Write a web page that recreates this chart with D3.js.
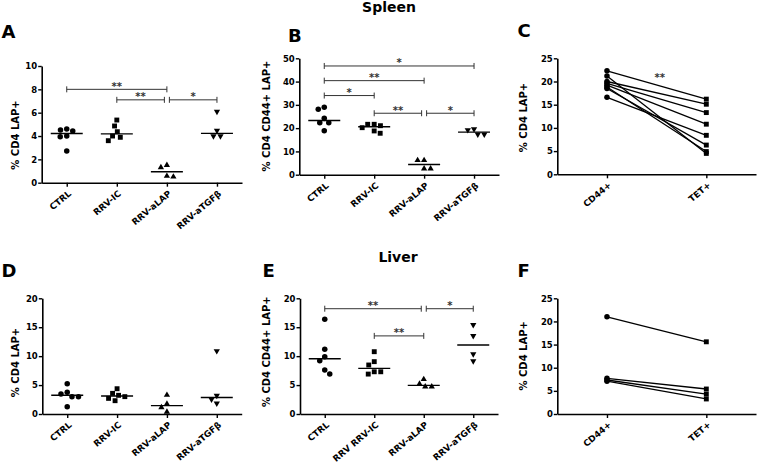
<!DOCTYPE html>
<html><head><meta charset="utf-8">
<script src="https://cdn.jsdelivr.net/npm/d3@7"></script>
<style>
body{margin:0;background:#fff}
text{font-family:'DejaVu Sans',sans-serif;font-weight:bold;fill:#000}
</style>
</head><body>
<svg id="c" width="760" height="463"></svg>
<script>
// ---------- DATA ----------
const groupsSpleen = ["CTRL","RRV-IC","RRV-aLAP","RRV-aTGFβ"];
const groupsLiver  = ["CTRL","RRV RRV-IC","RRV-aLAP","RRV-aTGFβ"];
const pairLabels   = ["CD44+","TET+"];

// Panel A: % CD4 LAP+ (spleen)
const aValues = [[4.6,4.51,4.43,4.0,3.94,2.71],[5.37,4.86,4.37,4.0,3.89,3.6],[1.51,1.31,0.57,0.51],[6.09,4.46,4.0,4.0]];
const aTicks = [0,2,4,6,8,10];
const aSig = [[0,2,8.0,"**"],[1,2,7.1,"**"],[2,3,7.1,"*"]];

// Panel B: % CD4 CD44+ LAP+ (spleen)
const bValues = [[28.1,28.95,24.2,22.3,22.3,18.9],[21.65,20.2,21.05,21.65,17.8,18.8],[6.2,6.2,2.6,2.6],[19.2,17.35,17.35,19.6]];
const bTicks = [0,10,20,30,40,50];
const bSig = [[0,3,46.7,"*"],[0,2,40.4,"**"],[0,1,34.0,"*"],[1,2,26.4,"**"],[2,3,26.4,"*"]];

// Panel C: paired CD44+ vs TET+ (spleen)
const cPre  = [22.3,21.2,20.0,19.6,19.2,18.8,18.5,16.6];
const cPost = [16.2,4.5,15.1,13.3,10.8,4.9,6.3,8.4];
const cTicks = [0,5,10,15,20,25];
const cSig = [["**",20.9]];

// Panel D: % CD4 LAP+ (liver)
const dValues = [[3.75,5.24,3.46,3.0,3.0,1.27],[4.37,3.0,2.3,2.7,3.57,3.23],[3.28,1.73,1.15,0.35],[10.9,3.17,1.85,2.54]];
const dTicks = [0,5,10,15,20];

// Panel E: % CD4 CD44+ LAP+ (liver)
const eValues = [[16.37,11.18,9.9,9.2,6.9,7.6],[10.77,9.05,8.47,7.3,6.9,7.3],[5.19,6.0,4.72,4.72],[15.4,13.5,10.37,9.16]];
const eTicks = [0,5,10,15,20];
const eSig = [[0,2,18.2,"**"],[2,3,18.2,"*"],[1,2,13.5,"**"]];

// Panel F: paired CD44+ vs TET+ (liver)
const fPre  = [21.0,7.7,7.35,7.1];
const fPost = [15.6,5.4,4.3,3.25];
const fTicks = [0,5,10,15,20,25];

// ---------- DRAWING ----------
const svg = d3.select("#c");

function styleAxis(g){
  g.select(".domain").attr("stroke","#000").attr("stroke-width",1.6);
  g.selectAll(".tick line").attr("stroke","#000").attr("stroke-width",1.4);
  g.selectAll("text").attr("font-family","'DejaVu Sans',sans-serif").attr("font-weight","bold");
}

function drawFrame(p, cats){
  const x = d3.scalePoint().domain(cats).range([p.x0,p.x1]).padding(0.5);
  const y = d3.scaleLinear().domain([0,p.ticks[p.ticks.length-1]]).range([p.y0,p.yTop]);
  const ya = svg.append("g").attr("transform",`translate(${p.x0},0)`)
    .call(d3.axisLeft(y).tickValues(p.ticks).tickSize(3.5).tickSizeOuter(0).tickPadding(1));
  styleAxis(ya);
  ya.selectAll("text").attr("font-size",8.5);
  const xa = svg.append("g").attr("transform",`translate(0,${p.y0})`)
    .call(d3.axisBottom(x).tickSize(4).tickSizeOuter(0));
  styleAxis(xa);
  xa.selectAll("text").attr("font-size",8.8).attr("text-anchor","end")
    .attr("dy","0.35em").attr("y",0)
    .attr("transform","translate(2.5,9.5) rotate(-40)");
  svg.append("text").attr("font-size",10).attr("text-anchor","middle")
    .attr("transform",`translate(${p.labX},${p.labY}) rotate(-90)`).attr("dy","0.35em").text(p.label);
  svg.append("text").attr("font-size",18).attr("x",p.letX).attr("y",p.letY).text(p.letter);
  return {x,y};
}

function swarm(vals, y, d){
  const placed=[];
  const order = vals.map((v,i)=>i).sort((a,b)=>vals[b]-vals[a]);
  const off = new Array(vals.length).fill(0);
  let side = -1;
  order.forEach(i=>{
    const py = y(vals[i]);
    let best=null;
    for(let k=0;k<=200 && best===null;k++){
      const cands = k===0?[0]:[side*k*0.25,-side*k*0.25];
      for(const cx of cands){
        if(placed.every(q=>Math.hypot(q[0]-cx,q[1]-py)>=d)){best=cx;break;}
      }
    }
    if(best!==0) side=-Math.sign(best);
    off[i]=best; placed.push([best,py]);
  });
  return off;
}

function symbolPath(kind){
  if(kind===0) return d3.symbol(d3.symbolCircle,24)();
  if(kind===1) return d3.symbol(d3.symbolSquare,24)();
  return d3.symbol(d3.symbolTriangle,17)();
}

function drawScatter(p, cats, values, sig){
  const {x,y} = drawFrame(p, cats);
  values.forEach((vals,gi)=>{
    const cx = x(cats[gi]);
    const off = swarm(vals,y,6.3);
    svg.append("g").selectAll("path").data(vals).join("path")
      .attr("d",symbolPath(gi))
      .attr("fill","#000")
      .attr("transform",(v,i)=>`translate(${cx+off[i]},${y(v)})${gi===3?" rotate(180)":""}`);
    const med = d3.median(vals);
    svg.append("line").attr("x1",cx-16).attr("x2",cx+16).attr("y1",y(med)).attr("y2",y(med))
      .attr("stroke","#000").attr("stroke-width",1.4);
  });
  (sig||[]).forEach(s=>{
    let x1 = x(cats[s[0]]), x2 = x(cats[s[1]]);
    if(sig.some(o=>o!==s && o[2]===s[2] && o[1]===s[0])) x1+=2.5;
    if(sig.some(o=>o!==s && o[2]===s[2] && o[0]===s[1])) x2-=2.5;
    const yy = y(s[2]);
    const g = svg.append("g").attr("stroke","#333").attr("stroke-width",1);
    g.append("line").attr("x1",x1).attr("x2",x2).attr("y1",yy).attr("y2",yy);
    g.append("line").attr("x1",x1).attr("x2",x1).attr("y1",yy-3).attr("y2",yy+3);
    g.append("line").attr("x1",x2).attr("x2",x2).attr("y1",yy-3).attr("y2",yy+3);
    svg.append("text").attr("x",(x1+x2)/2).attr("y",yy+0.5).attr("text-anchor","middle")
      .attr("font-size",10).style("fill","#333").text(s[3]);
  });
}

function drawPaired(p, pre, post, sig){
  const {x,y} = drawFrame(p, pairLabels);
  const xa = x(pairLabels[0]), xb = x(pairLabels[1]);
  svg.append("g").selectAll("line").data(pre).join("line")
    .attr("x1",xa).attr("x2",xb).attr("y1",d=>y(d)).attr("y2",(d,i)=>y(post[i]))
    .attr("stroke","#000").attr("stroke-width",1.3);
  svg.append("g").selectAll("path").data(pre).join("path")
    .attr("d",symbolPath(0)).attr("transform",d=>`translate(${xa},${y(d)})`);
  svg.append("g").selectAll("path").data(post).join("path")
    .attr("d",symbolPath(1)).attr("transform",d=>`translate(${xb},${y(d)})`);
  (sig||[]).forEach(s=>{
    svg.append("text").attr("x",(xa+xb)/2+3).attr("y",y(s[1])+4).attr("text-anchor","middle")
      .attr("font-size",10).style("fill","#333").text(s[0]);
  });
}

// Titles
svg.append("text").attr("x",389).attr("y",12).attr("text-anchor","middle").attr("font-size",14).text("Spleen");
svg.append("text").attr("x",398).attr("y",261.5).attr("text-anchor","middle").attr("font-size",14).text("Liver");

drawScatter({x0:41.7,x1:242,y0:182.7,yTop:66,ticks:aTicks,label:"% CD4 LAP+",labX:15,labY:135,letter:"A",letX:1.5,letY:38.3},
  groupsSpleen, aValues, aSig);
drawScatter({x0:299.3,x1:499,y0:174.7,yTop:58.3,ticks:bTicks,label:"% CD4 CD44+ LAP+",labX:266.7,labY:116,letter:"B",letX:288,letY:41.7},
  groupsSpleen, bValues, bSig);
drawPaired({x0:557.3,x1:756,y0:174.3,yTop:58.3,ticks:cTicks,label:"% CD4 LAP+",labX:523.3,labY:117.5,letter:"C",letX:517.5,letY:36.7},
  cPre, cPost, cSig);
drawScatter({x0:42.3,x1:241.7,y0:414,yTop:298.3,ticks:dTicks,label:"% CD4 LAP+",labX:15,labY:362.5,letter:"D",letX:1.5,letY:276.7},
  groupsSpleen, dValues, null);
drawScatter({x0:300,x1:498,y0:414,yTop:298.3,ticks:eTicks,label:"% CD4 CD44+ LAP+",labX:266.7,labY:351.7,letter:"E",letX:262.5,letY:276.7},
  groupsLiver, eValues, eSig);
drawPaired({x0:557.3,x1:756,y0:414,yTop:298.3,ticks:fTicks,label:"% CD4 LAP+",labX:523.3,labY:355.8,letter:"F",letX:517.5,letY:276.7},
  fPre, fPost, null);
</script>
</body></html>
